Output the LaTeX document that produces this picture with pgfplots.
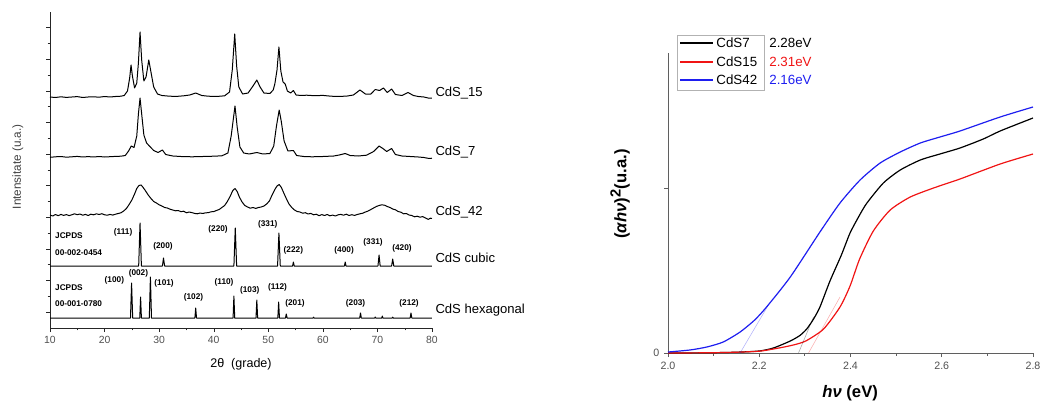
\documentclass[border=0pt]{standalone}
\usepackage{pgfplots}
\pgfplotsset{compat=1.18}
\usepackage{fontspec}
\setmainfont{Liberation Sans}
\definecolor{tickgray}{RGB}{80,80,80}
\definecolor{axgray}{RGB}{95,95,95}
\definecolor{cred}{RGB}{240,20,20}
\definecolor{cblue}{RGB}{30,30,240}
\pgfplotsset{xrd/.style={black, no marks, line width=0.75pt, line join=round}}

\begin{document}
\begin{tikzpicture}
\useasboundingbox (0,0) rectangle (780.75pt,-302.25pt);
% ---------------- XRD ----------------
\begin{axis}[at={(37.5pt,-246pt)}, anchor=south west, scale only axis,
  width=286.5pt, height=237pt, xmin=10, xmax=80, ymin=0, ymax=316,
  axis x line=bottom, axis y line=left, axis line style={-,black!85},
  clip=false, tick align=outside, major tick length=3pt, minor tick length=1.8pt,
  xtick={10,20,...,80}, minor x tick num=1,
  ytick={16,47.6,...,301}, minor y tick num=1, yticklabels={},
  tick style={black!85},
  ticklabel style={font=\fontsize{7.8}{9}\selectfont, text=tickgray},
  /pgf/number format/assume math mode=true,
  xlabel={2θ \ (grade)}, ylabel={Intensitate (u.a.)},
  xlabel style={at={(axis description cs:0.5,-0.114)}, anchor=center, font=\fontsize{9.4}{11}\selectfont},
  ylabel style={at={(axis description cs:-0.084,0.51)}, anchor=center, font=\fontsize{8.8}{10}\selectfont, text=black!75}]
% CdS_15
\addplot[xrd] coordinates {(10,231) (11,230.5) (12,231.2) (13,230.6) (14,231) (15,231.4) (16,230.5) (17,231) (18,231.2) (19,230.8) (20,231.5) (21,231) (22,231.5) (23,231.8) (23.6,232.5) (24.2,237) (24.6,250) (24.85,263) (25.1,252) (25.5,240) (25.9,245) (26.2,265) (26.5,296) (26.8,268) (27.2,247) (27.6,251) (28.1,268) (28.5,256) (29,241) (29.7,234) (30.5,232.5) (31.5,232) (33,231.5) (34.5,232.2) (35.6,233) (36.7,235) (37.8,232.5) (39,231.8) (40.5,231.5) (42,232.2) (42.9,236) (43.4,258) (43.85,294) (44.2,262) (44.6,241) (45.3,234) (46.3,235) (47.2,242) (47.9,248) (48.5,241) (49.2,235) (50.3,234.5) (50.9,238) (51.2,244) (51.6,258) (51.95,281) (52.3,257) (52.7,246) (53.1,244) (53.5,237) (54.1,235) (54.6,237.5) (55.1,233) (56,232.5) (57,232.8) (58.5,232.3) (60,232.6) (61.5,231.8) (63,231.5) (64.5,232) (65.6,233) (66.8,238) (67.8,234) (68.8,234) (69.6,238.5) (70.4,237.5) (71.1,240) (71.8,235.5) (72.6,239) (73.3,233.5) (74.5,232.5) (75.6,235.5) (76.6,232.5) (77.5,231.5) (78.5,231) (79.3,230) (80,230)};
% CdS_7
\addplot[xrd] coordinates {(10,170.7) (11,171.2) (12,171.5) (13,170.8) (14,171.2) (15,171.6) (16,171) (17,171.4) (18,171) (19,171.5) (20,171) (21,171.3) (22,171.6) (23,171.8) (23.8,172.5) (24.4,177) (24.9,182) (25.4,180.5) (25.9,192) (26.2,214) (26.5,230) (26.8,214) (27.2,193) (27.7,185) (28.3,181.5) (29,177.5) (29.8,175.5) (30.6,178) (31.2,173.5) (32.5,172) (34,171.5) (36,171.2) (38,171.5) (40,171.8) (41.5,172.2) (42.6,175) (43.2,192) (43.9,222) (44.3,201) (44.8,181) (45.5,175) (46.5,174) (47.9,175.5) (49,174) (50.3,174.5) (51,182) (51.5,202) (52,218) (52.4,206) (52.9,187) (53.6,177) (54.6,177.5) (55.2,172.5) (56.5,171.5) (58,171.2) (60,171.5) (62,172) (63,173) (64.1,174.5) (65,172.5) (66.5,172) (68,172.8) (69.3,176.5) (70.3,182) (71,179.5) (71.7,176.5) (72.6,179.5) (73.3,173.5) (74.5,172) (76,171.5) (77.5,171) (78.5,170.5) (79.5,169.5) (80,169.8)};
% CdS_42
\addplot[xrd] coordinates {(10,113) (10.5,112) (11,113.5) (11.5,112.3) (12,113.6) (12.5,112.6) (13,113.4) (13.5,112.4) (14,113.2) (14.5,114.2) (15,113.3) (15.5,114) (16,112.8) (16.5,113.6) (17,112.5) (17.5,113.8) (18,113.2) (18.5,114.2) (19,113.5) (19.5,114.3) (20,113.2) (20.5,112.8) (21,113.6) (21.5,112.9) (22,113.8) (22.5,114.5) (23,115.2) (23.5,117) (24,119.5) (24.5,123.5) (25,128) (25.5,134) (25.9,139.5) (26.3,142.5) (26.7,143) (27,141) (27.4,138) (28,133) (28.5,129.5) (29,126.5) (29.5,125) (30,123.2) (30.5,122) (31,120.5) (31.5,120) (32,118.8) (32.5,118) (33,117.2) (33.5,117.5) (34,116.3) (34.5,116.8) (35,115.2) (35.5,116) (36,115.4) (36.5,114.6) (37,114.2) (37.5,115) (38,114.5) (38.5,115.2) (39,115.3) (39.5,116.2) (40,116.4) (40.5,117.5) (41,118.5) (41.5,120.5) (42,122.5) (42.5,126.5) (43,131.5) (43.5,137.5) (43.9,139.5) (44.3,136.5) (44.7,131) (45.2,126) (45.7,122.5) (46.2,121) (46.7,119.8) (47.2,120.5) (47.7,119.6) (48.2,120.5) (48.7,121) (49.2,122) (49.7,124) (50.2,127) (50.7,133) (51.2,138.5) (51.6,142) (52,143.5) (52.4,140.5) (52.8,135.5) (53.3,129.5) (53.8,124) (54.3,120.5) (54.8,118) (55.3,116.5) (55.8,116) (56.3,114.8) (56.8,115.3) (57.3,114) (57.8,114.6) (58.3,113.2) (58.8,113.8) (59.3,112.3) (59.8,113.4) (60.3,112.5) (60.8,113.5) (61.3,112.2) (61.8,112.9) (62.3,112) (62.8,113.2) (63.3,113.6) (63.8,112.8) (64.3,113.8) (64.8,112.5) (65.3,113.3) (65.8,112.6) (66.3,113.5) (66.8,114.2) (67.3,114.8) (67.8,116) (68.3,117) (68.8,118.5) (69.3,120) (69.8,121.5) (70.3,122.5) (70.8,123.2) (71.3,122.8) (71.8,121.5) (72.3,120.5) (72.8,119) (73.3,118.2) (73.8,116.5) (74.3,115.8) (74.8,114.2) (75.3,114.5) (75.8,113) (76.3,112.5) (76.8,111.2) (77.3,111.8) (77.8,110.8) (78.3,111.4) (78.8,110) (79.3,108.6) (79.7,109.8) (80,109.5)};
% CdS cubic JCPDS 00-002-0454
\addplot[xrd] coordinates {(10,62) (26.25,62) (26.5,105) (26.75,62) (30.6,62) (30.8,70) (31,62) (43.7,62) (43.95,100) (44.2,62) (51.7,62) (51.95,95) (52.2,62) (54.45,62) (54.6,66) (54.75,62) (63.95,62) (64.1,66) (64.25,62) (70.1,62) (70.3,73) (70.5,62) (72.6,62) (72.8,69) (73,62) (80,62)};
% CdS hexagonal JCPDS 00-001-0780
\addplot[xrd] coordinates {(10,10) (24.75,10) (24.95,45) (25.15,10) (26.45,10) (26.6,31) (26.75,10) (28.2,10) (28.4,51) (28.6,10) (36.55,10) (36.7,20) (36.85,10) (43.55,10) (43.7,32) (43.85,10) (47.75,10) (47.9,28) (48.05,10) (51.75,10) (51.9,26) (52.05,10) (53.15,10) (53.3,14) (53.45,10) (58.2,10) (58.3,10.8) (58.4,10) (66.75,10) (66.9,15) (67.05,10) (69.5,10) (69.6,11) (69.7,10) (70.8,10) (70.9,12) (71,10) (72.7,10) (72.8,10.8) (72.9,10) (76,10) (76.15,15) (76.3,10) (80,10)};
% sample names
\begin{scope}[every node/.style={anchor=west, font=\fontsize{9.8}{11}\selectfont, inner sep=0pt}]
\node at (axis cs:80.6,235) {CdS\_15};
\node at (axis cs:80.6,176) {CdS\_7};
\node at (axis cs:80.6,116) {CdS\_42};
\node at (axis cs:80.6,70) {CdS cubic};
\node at (axis cs:80.6,18) {CdS hexagonal};
\end{scope}
% Miller indices
\begin{scope}[every node/.style={font=\bfseries\fontsize{6.2}{7}\selectfont, inner sep=0pt}]
\node[anchor=west] at (axis cs:10.9,92) {JCPDS};
\node[anchor=west] at (axis cs:10.9,75) {00-002-0454};
\node at (axis cs:23.4,96) {(111)};
\node at (axis cs:30.7,82) {(200)};
\node at (axis cs:40.8,99) {(220)};
\node at (axis cs:49.9,104) {(331)};
\node at (axis cs:54.6,78) {(222)};
\node at (axis cs:63.9,78) {(400)};
\node at (axis cs:69.2,86) {(331)};
\node at (axis cs:74.5,80) {(420)};
\node[anchor=west] at (axis cs:10.9,40) {JCPDS};
\node[anchor=west] at (axis cs:10.9,24) {00-001-0780};
\node at (axis cs:21.8,48) {(100)};
\node at (axis cs:26.2,55) {(002)};
\node at (axis cs:30.9,45) {(101)};
\node at (axis cs:36.3,31) {(102)};
\node at (axis cs:41.9,46) {(110)};
\node at (axis cs:46.6,38) {(103)};
\node at (axis cs:51.7,41) {(112)};
\node at (axis cs:54.9,25) {(201)};
\node at (axis cs:66.0,25) {(203)};
\node at (axis cs:75.8,25) {(212)};
\end{scope}
\end{axis}
% ---------------- Tauc ----------------
\begin{axis}[at={(501pt,-264.75pt)}, anchor=south west, scale only axis,
  width=273.75pt, height=225pt, xmin=2.0, xmax=2.8, ymin=0, ymax=300,
  axis x line=bottom, axis y line=left, axis line style={-,axgray, line width=0.7pt},
  clip=false, tick align=outside, major tick length=3pt, minor tick length=2pt,
  tick style={axgray, line width=0.6pt},
  xtick={2.0,2.2,...,2.81}, minor x tick num=1,
  ytick={0,165}, yticklabels={0,{}},
  xticklabel style={/pgf/number format/.cd, fixed, fixed zerofill, precision=1},
  ticklabel style={font=\fontsize{8}{9}\selectfont, text=tickgray},
  /pgf/number format/assume math mode=true,
  xlabel={\textbf{\textit{hν} (eV)}},
  ylabel={\textbf{(\textit{αhν})\textsuperscript{\fontsize{11}{12}\selectfont 2}(u.a.)}},
  xlabel style={at={(axis description cs:0.499,-0.133)}, anchor=center, font=\fontsize{12.5}{14}\selectfont},
  ylabel style={at={(axis description cs:-0.131,0.53)}, anchor=center, font=\fontsize{12.5}{14}\selectfont}]
\addplot[color=black, line width=0.9pt, smooth, tension=0.4] coordinates {(2.0,0) (2.05,0.1) (2.1,0.3) (2.15,0.8) (2.2,2) (2.231,5) (2.268,12) (2.289,17.5) (2.304,24) (2.319,34) (2.333,46) (2.355,72) (2.38,98) (2.399,120) (2.42,138) (2.436,150) (2.472,170) (2.509,183) (2.553,193) (2.596,199) (2.64,205) (2.691,214) (2.728,222) (2.8,235)};
\addplot[color=cred, line width=0.9pt, smooth, tension=0.4] coordinates {(2.0,0) (2.05,0.1) (2.1,0.3) (2.15,0.8) (2.2,1.8) (2.231,4) (2.26,6.5) (2.283,9) (2.304,12.5) (2.341,24) (2.377,46) (2.399,67) (2.42,94) (2.45,122) (2.487,143) (2.531,156) (2.582,165) (2.64,174) (2.728,189) (2.8,199)};
\addplot[color=cblue, line width=0.9pt, smooth, tension=0.4] coordinates {(2.0,1) (2.048,3) (2.085,6) (2.121,11) (2.158,21) (2.19,33) (2.216,46) (2.268,76) (2.333,121) (2.377,150) (2.421,173) (2.465,190) (2.509,201) (2.553,210) (2.596,216) (2.64,222) (2.728,236) (2.8,246)};
% linear fits for band gap
\addplot[color=black, opacity=0.35, line width=0.4pt] coordinates {(2.286,0) (2.319,36)};
\addplot[color=cred, opacity=0.35, line width=0.4pt] coordinates {(2.308,0) (2.377,56)};
\addplot[color=cblue, opacity=0.35, line width=0.4pt] coordinates {(2.158,0) (2.22,48)};
% legend box with band gap values
\draw[black!30, line width=0.6pt] (rel axis cs:0.027,0.877) rectangle (rel axis cs:0.263,1.057);
\draw[black, line width=0.9pt] (rel axis cs:0.033,1.033) -- (rel axis cs:0.123,1.033);
\draw[cred, line width=0.9pt] (rel axis cs:0.033,0.970) -- (rel axis cs:0.123,0.970);
\draw[cblue, line width=0.9pt] (rel axis cs:0.033,0.910) -- (rel axis cs:0.123,0.910);
\begin{scope}[every node/.style={anchor=west, font=\fontsize{10}{11}\selectfont, inner sep=0pt}]
\node at (rel axis cs:0.132,1.033) {CdS7};
\node at (rel axis cs:0.132,0.970) {CdS15};
\node at (rel axis cs:0.132,0.910) {CdS42};
\node[text=black] at (rel axis cs:0.277,1.033) {2.28eV};
\node[text=cred] at (rel axis cs:0.277,0.970) {2.31eV};
\node[text=cblue] at (rel axis cs:0.277,0.910) {2.16eV};
\end{scope}
\end{axis}
\end{tikzpicture}
\end{document}
